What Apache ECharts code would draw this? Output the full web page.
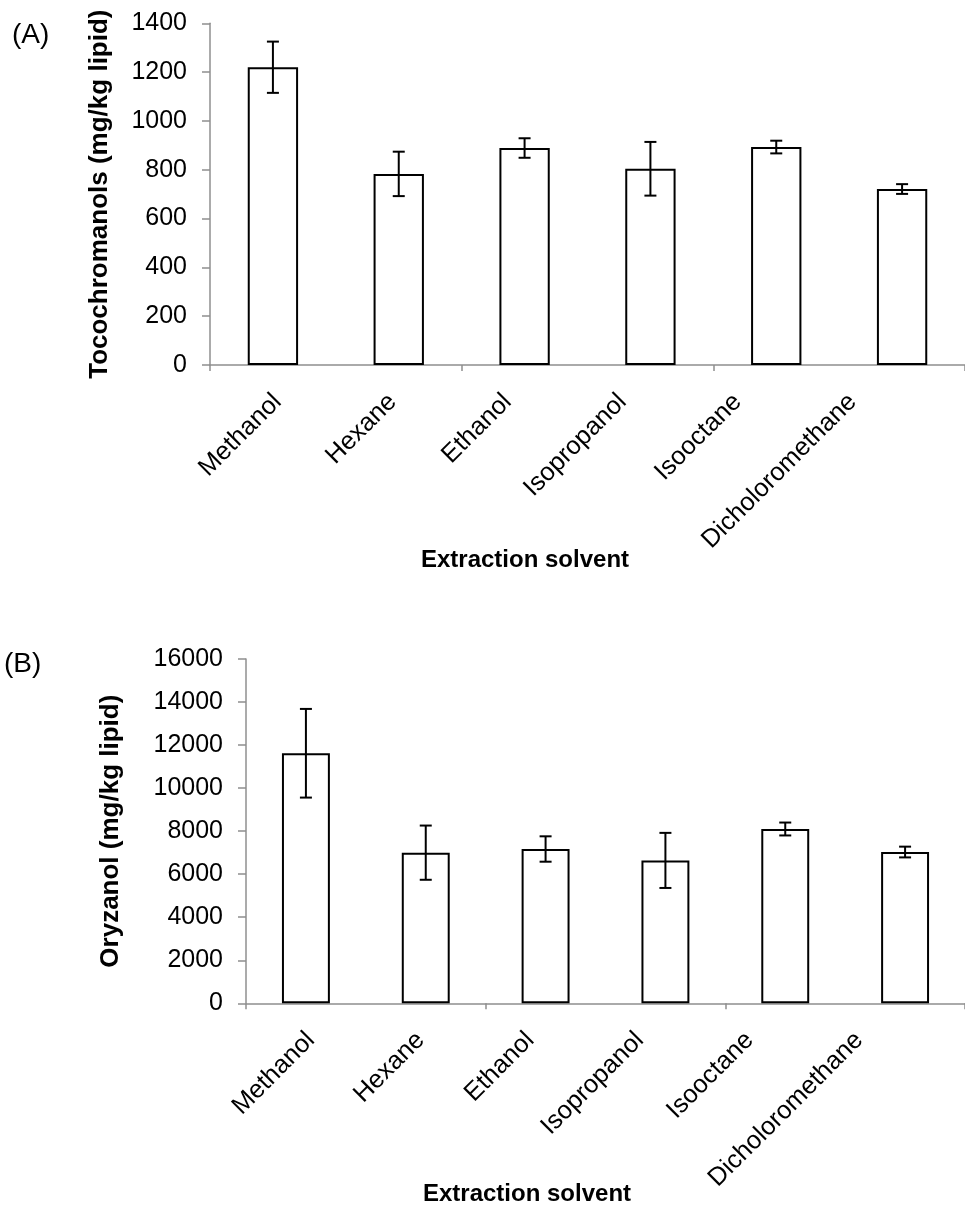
<!DOCTYPE html>
<html>
<head>
<meta charset="utf-8">
<script src="https://cdn.jsdelivr.net/npm/echarts@6/dist/echarts.min.js"></script>
<style>
html,body{margin:0;padding:0;background:#fff;}
#chart{width:965px;height:1209px;}
</style>
</head>
<body>
<div id="chart"></div>
<script>
// ---- data ----
const categories = ['Methanol', 'Hexane', 'Ethanol', 'Isopropanol', 'Isooctane', 'Dicholoromethane'];
const tocoValues = [1220, 783, 889, 804, 893, 721];
const tocoErrors = [105, 91, 40, 110, 26, 20];
const oryzValues = [11620, 7000, 7170, 6640, 8100, 7030];
const oryzErrors = [2060, 1260, 590, 1280, 300, 250];
const tocoTicks = { min: 0, max: 1400, interval: 200 };
const oryzTicks = { min: 0, max: 16000, interval: 2000 };

const FONT = '"Liberation Sans", Arial, Helvetica, sans-serif';
const AXIS_GREY = '#8f8f8f';

const chart = echarts.init(document.getElementById('chart'), null, { renderer: 'canvas' });

function errData(vals, errs) {
  return vals.map((v, i) => [i, v - errs[i], v + errs[i]]);
}

function errorBarRender(params, api) {
  const lo = api.coord([api.value(0), api.value(1)]);
  const hi = api.coord([api.value(0), api.value(2)]);
  const hw = 6;
  const st = { stroke: '#000', lineWidth: 2 };
  return {
    type: 'group',
    children: [
      { type: 'line', shape: { x1: hi[0], y1: hi[1], x2: lo[0], y2: lo[1] }, style: st },
      { type: 'line', shape: { x1: hi[0] - hw, y1: hi[1], x2: hi[0] + hw, y2: hi[1] }, style: st },
      { type: 'line', shape: { x1: lo[0] - hw, y1: lo[1], x2: lo[0] + hw, y2: lo[1] }, style: st }
    ]
  };
}

function mainX(gridIndex) {
  return {
    type: 'category', gridIndex, data: categories, boundaryGap: true,
    axisLine: { show: true, lineStyle: { color: AXIS_GREY, width: 1.5 } },
    axisTick: { show: true, length: 6, lineStyle: { color: AXIS_GREY, width: 1.5 } },
    axisLabel: { show: false },
    splitLine: { show: false }
  };
}
function labelX(gridIndex) {
  return {
    type: 'category', gridIndex, data: categories, boundaryGap: true,
    axisLine: { show: false }, axisTick: { show: false }, splitLine: { show: false },
    axisLabel: { show: true, interval: 0, rotate: 45, margin: 33, color: '#000', fontSize: 25.5, fontFamily: FONT }
  };
}
function mainY(gridIndex, ticks, name, gap) {
  return {
    type: 'value', gridIndex, min: ticks.min, max: ticks.max, interval: ticks.interval,
    name, nameLocation: 'middle', nameGap: gap, nameRotate: 90,
    nameTextStyle: { color: '#000', fontSize: 26, fontWeight: 'bold', fontFamily: FONT },
    axisLine: { show: true, lineStyle: { color: AXIS_GREY, width: 1.5 } },
    axisTick: { show: true, length: 8, lineStyle: { color: AXIS_GREY, width: 1.5 } },
    axisLabel: { color: '#000', fontSize: 25, fontFamily: FONT, margin: 23, formatter: v => String(v) },
    splitLine: { show: false }
  };
}
function hiddenY(gridIndex) {
  return { type: 'value', gridIndex, min: 0, max: 1, show: false, splitLine: { show: false } };
}

const barStyle = { color: '#fff', borderColor: '#000', borderWidth: 2 };

const option = {
  animation: false,
  backgroundColor: '#fff',
  grid: [
    { left: 210, top: 23.3, width: 755, height: 341.7 },
    { left: 246, top: 659, width: 725.5, height: 344.3 },
    { left: 220, top: 23.3, width: 690, height: 341.7 },
    { left: 256, top: 659, width: 658, height: 344.3 }
  ],
  xAxis: [mainX(0), mainX(1), labelX(2), labelX(3)],
  yAxis: [
    mainY(0, tocoTicks, 'Tocochromanols (mg/kg lipid)', 97),
    mainY(1, oryzTicks, 'Oryzanol (mg/kg lipid)', 122),
    hiddenY(2), hiddenY(3)
  ],
  series: [
    { type: 'bar', xAxisIndex: 0, yAxisIndex: 0, data: tocoValues, barWidth: '40%', itemStyle: barStyle, silent: true },
    { type: 'custom', xAxisIndex: 0, yAxisIndex: 0, data: errData(tocoValues, tocoErrors), encode: { x: 0, y: [1, 2] }, renderItem: errorBarRender, z: 5, silent: true },
    { type: 'bar', xAxisIndex: 1, yAxisIndex: 1, data: oryzValues, barWidth: '40%', itemStyle: barStyle, silent: true },
    { type: 'custom', xAxisIndex: 1, yAxisIndex: 1, data: errData(oryzValues, oryzErrors), encode: { x: 0, y: [1, 2] }, renderItem: errorBarRender, z: 5, silent: true }
  ],
  graphic: [
    { type: 'text', left: 12, top: 21, style: { text: '(A)', fill: '#000', font: '28px ' + FONT } },
    { type: 'text', left: 4, top: 650, style: { text: '(B)', fill: '#000', font: '28px ' + FONT } },
    { type: 'text', x: 525, y: 560, style: { text: 'Extraction solvent', fill: '#000', font: 'bold 24px ' + FONT, align: 'center', verticalAlign: 'middle' } },
    { type: 'text', x: 527, y: 1194, style: { text: 'Extraction solvent', fill: '#000', font: 'bold 24px ' + FONT, align: 'center', verticalAlign: 'middle' } }
  ]
};
chart.setOption(option);
</script>
</body>
</html>
